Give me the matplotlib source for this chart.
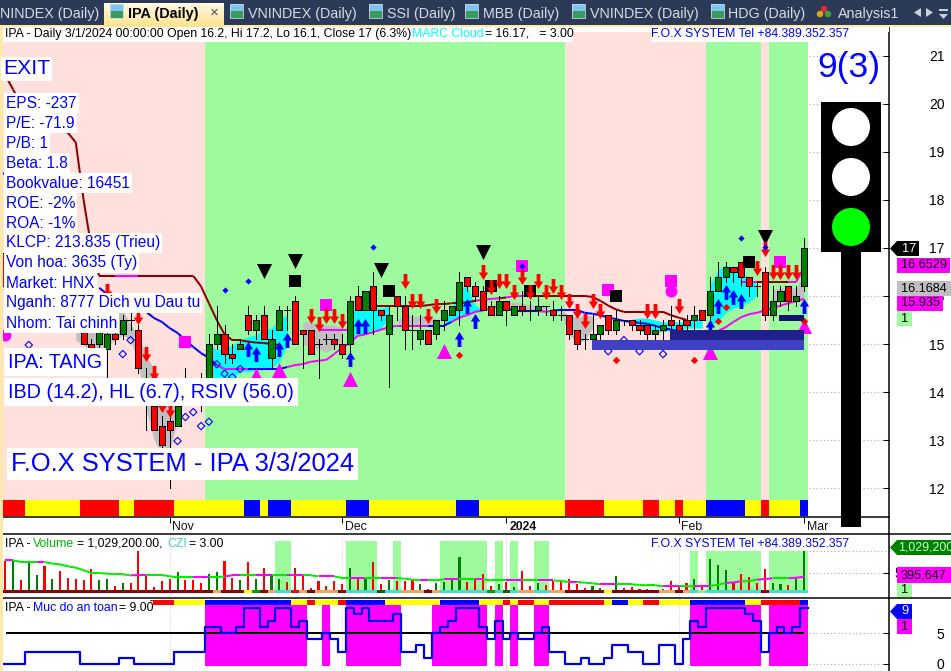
import numpy as np
import matplotlib
matplotlib.use('Agg')
import matplotlib.pyplot as plt
from matplotlib.patches import Rectangle, Circle, Polygon
from matplotlib.path import Path

plt.rcParams['font.family'] = ['Liberation Sans', 'DejaVu Sans']

nan = float('nan')
PX = 0.72  # one pixel in points at 100 dpi

# Candles, oldest first
opens = [16.9,15.9,16.7,16.0,15.9,16.5,15.7,16.3,15.9,15.9,15.3,15.0,15.0,14.9,15.2,15.2,15.5,15.3,14.2,13.7,
         13.3,13.4,13.3,14.2,14.1,14.3,14.3,15.0,15.2,14.8,14.9,15.6,15.3,15.6,14.7,15.3,15.7,15.9,15.3,15.3,
         15.0,15.1,15.1,15.0,15.0,16.0,15.7,16.2,15.7,15.2,16.0,15.8,15.3,15.1,15.3,15.2,15.5,15.6,15.7,16.4,
         16.2,16.1,15.8,15.6,15.9,15.6,15.8,15.7,15.7,15.8,15.7,15.6,15.6,15.3,15.1,15.1,15.2,15.6,15.3,15.5,
         15.5,15.4,15.4,15.2,15.3,15.5,15.4,15.5,15.5,15.7,15.6,16.1,16.4,16.6,16.7,16.4,16.2,16.5,15.6,15.9,
         16.2,15.9,16.2]
highs = [17.0,16.9,16.9,16.8,16.5,16.5,16.4,16.4,16.0,16.0,15.9,15.1,15.6,15.5,15.5,15.6,15.7,15.4,14.5,14.2,
         13.5,13.6,14.0,14.5,14.3,14.4,15.2,15.8,15.4,15.0,15.1,15.8,15.6,15.8,15.3,15.8,15.8,16.0,15.3,15.3,
         15.1,15.2,15.2,15.2,16.0,16.2,16.1,16.5,15.7,15.8,16.0,16.0,15.6,15.6,15.3,15.5,15.9,15.8,16.5,16.4,
         16.3,16.2,15.9,16.0,15.9,15.8,16.1,15.9,16.0,15.8,15.9,15.8,15.6,15.3,15.2,15.6,15.4,15.6,15.7,15.5,
         15.5,15.5,15.4,15.4,15.5,15.8,15.5,15.6,15.8,15.7,16.4,16.7,16.7,16.6,16.7,16.4,16.3,16.6,16.2,16.2,
         16.2,16.2,17.2]
lows = [16.0,15.7,16.3,15.9,15.8,15.7,15.6,15.7,15.4,15.4,15.0,14.4,14.9,14.3,15.0,15.1,15.3,14.4,13.2,13.2,
        12.8,12.0,13.3,13.9,13.9,13.6,14.1,14.9,14.6,14.6,14.9,15.2,15.1,15.1,14.5,15.3,15.3,15.0,14.5,14.8,
        14.3,15.0,14.9,14.7,14.8,15.7,15.7,15.2,15.5,14.1,15.5,14.9,14.9,15.0,15.0,15.1,15.3,15.6,15.4,16.1,
        15.9,15.7,15.6,15.6,15.4,15.6,15.6,15.5,15.6,15.6,15.5,15.5,15.1,14.9,14.9,15.0,15.1,15.2,15.2,15.4,
        15.3,15.2,15.1,15.1,15.1,15.3,15.1,15.2,15.2,15.5,15.5,16.1,16.3,16.3,16.2,16.0,16.0,15.5,15.5,15.8,
        15.7,15.8,16.1]
closes = [16.2,16.8,16.4,16.7,16.3,15.9,16.2,15.8,15.5,15.5,15.0,14.8,15.5,15.2,15.1,15.5,15.5,14.5,13.9,13.2,
          12.9,13.2,13.7,14.1,14.0,13.9,15.0,15.2,14.8,14.7,15.0,15.3,15.5,15.1,15.1,15.7,15.7,15.0,15.2,14.8,
          15.0,15.1,15.0,14.8,15.9,15.7,16.1,15.7,15.6,15.6,15.8,15.3,15.3,15.3,15.0,15.5,15.7,15.8,16.3,16.2,
          16.0,15.7,15.6,15.9,15.7,15.8,15.7,15.7,15.8,15.8,15.6,15.6,15.2,15.0,15.1,15.2,15.4,15.3,15.5,15.5,
          15.4,15.3,15.2,15.3,15.4,15.4,15.2,15.4,15.6,15.5,16.1,16.4,16.6,16.5,16.4,16.2,16.2,15.6,15.9,16.1,
          15.9,16.0,17.0]

# Upper trend line (maroon), nan where it cannot be seen
trend = [20.6,20.3,20.0,19.9,19.75,19.65,19.55,19.45,19.4,19.2,18.0,17.0] + [16.42]*13 + \
        [16.2,15.85,15.5,15.2,15.08,15.08,15.05,15.03,15.02,15.0,14.98] + [nan]*4 + [15.3]*5 + [nan]*2 + [15.79]*7 + \
        [15.81,15.83,15.83,15.85,15.85,15.87,15.9,15.92,15.94,15.95,15.97] + [16.0]*10 + \
        [15.98,15.9,15.8,15.72,15.67] + [15.67]*5 + [15.6,15.55,15.5] + [nan]*6 + [16.29]*8 + [16.6]
trend_magenta = [15,16,40,41,42,43,44,61,62,65,66,94,95,101,102]

# Lower line (blue / magenta)
mid_line = [nan]*12 + [16.17,16.04,15.98,15.92,15.81,15.73,15.67,15.54,15.46,15.33,15.23,15.08,14.94,14.81,14.71,14.56,
            14.48,14.48,14.48,14.48,14.48,14.48,14.48,14.48,14.52,14.56,14.58,14.63,14.65,14.67,14.79,14.92,15.02,15.17,
            15.2,15.25,15.3,15.35,15.38,15.38,15.38,15.38,15.38,15.38,15.38,15.46,15.55,15.6,15.67,15.7,15.75,15.79,
            15.75,15.69,15.69,15.69,15.69,15.67,15.7,15.71,15.71,15.71,15.65,15.63,15.6,15.55,15.52,15.48,15.46,15.44,
            15.42,15.38,15.33,15.3,15.27,15.25,15.23,15.23,15.23,15.27,15.35,15.46,15.56,15.62,15.65,15.7,15.75,15.8,
            15.85,15.89,15.94]
mid_blue = list(range(12, 27)) + [32,33,34,35,55,56,65,66,67] + list(range(71, 91))

# Cloud pieces
cloud_starts = [3, 9, 26, 38, 44, 50, 56, 64, 71, 80, 90, 98]
cloud_kinds = ['c', 'g', 'c', 'g', 'c', 'g', 'c', 'g', 'g', 'c', 'c', 'g']
cloud_hi = [[16.54,16.54,16.54,16.54,16.54],
            [15.92,15.92,15.81,15.71,15.71,15.71,15.71,15.40,15.19,14.77,14.46,14.15,13.83,13.73],
            [14.98,14.88,14.92,14.98,15.08,15.15,15.19,15.29,15.33,15.54,15.6],
            [15.46,15.46,15.40,15.40,15.40,15.33],
            [15.67,15.71,15.71,15.75,15.75,15.79],
            [15.5,15.58,15.58,15.58,15.58,15.54],
            [15.46,15.75,16.19,16.19,15.81,15.71],
            [15.85,15.88,15.85,15.81,15.81,15.79],
            [15.71,15.6,15.56,15.6,15.58],
            [15.52,15.54,15.54,15.5,15.46,15.46,15.46,15.46,15.5,15.54],
            [16.23,16.54,16.65,16.54,16.5,16.375,16.23],
            [16.13,16.17,16.17,16.17,16.44]]
cloud_lo = [[16.02,16.02,16.02,16.02,16.02],
            [15.08,14.98,14.88,14.88,14.98,15.08,15.19,15.08,14.56,13.63,13.0,12.69,12.79,13.42],
            [13.94,14.04,14.15,14.29,14.42,14.42,14.46,14.46,14.5,14.63,14.98],
            [14.98,14.98,14.88,14.83,14.92,15.04],
            [15.02,15.19,15.25,15.29,15.33,15.58],
            [15.46,15.33,15.38,15.38,15.38,15.38],
            [15.38,15.46,15.54,15.6,15.67,15.67],
            [15.73,15.67,15.67,15.67,15.67,15.67],
            [15.6,15.19,15.02,15.08,15.33],
            [15.46,15.29,15.19,15.25,15.25,15.29,15.29,15.33,15.33,15.33],
            [15.4,15.46,15.65,15.75,15.79,15.88,16.02],
            [15.85,15.88,15.88,15.92,15.96]]

# Signals
red_arrow_bars = [13,17,18,19,20,21,39,40,41,42,43,51,52,53,54,55,61,62,63,64,65,66,67,68,69,70,71,72,73,74,75,76,82,83,86,96,97,98,99,100,101]
red_arrow_vals = [16.1,15.56,14.79,14.4,13.73,13.63,15.58,15.42,15.58,15.58,15.48,16.31,15.9,15.9,15.58,15.79,16.5,16.19,16.31,16.31,16.08,16.4,16.08,16.31,16.08,16.21,16.08,15.9,15.69,15.48,15.9,15.69,15.69,15.69,15.79,16.58,16.98,16.5,16.5,16.5,16.5]
blue_arrow_bars = [31,32,35,36,44,45,46,58,59,60,90,91,92,93,94,102]
blue_arrow_vals = [14.9,14.79,14.9,15.08,14.69,15.38,15.38,15.1,15.79,15.48,15.35,15.79,16.08,15.98,15.9,15.79]
black_tri_bars = [33,37,48,61,97]
black_tri_vals = [16.52,16.73,16.54,16.92,17.23]
black_sq_bars = [7,37,49,62,67,78,95]
black_sq_vals = [17.6,16.31,16.1,16.21,16.1,16.0,16.71]
mag_sq_bars = [4,23,41,66,77,85,99]
mag_sq_vals = [17.08,15.04,15.81,16.63,16.13,16.31,16.71]
mag_dot_bars = [0,85]
mag_dot_vals = [15.19,16.1]
mag_tri_bars = [32,35,44,56,90,102]
mag_tri_vals = [14.35,14.46,14.27,14.85,14.83,15.38]
blue_dia_bars = [0,2,4,6,28,31,47,66,94,97]
blue_dia_vals = [18.56,18.15,17.73,17.31,16.13,16.31,17.02,16.63,17.21,17.02]
red_dia_bars = [58,78,88,91,92,102]
red_dia_vals = [14.77,14.67,14.67,15.48,15.77,15.48]
open_dia_bars = [3,15,16,22,23,24,25,26,27,28,29,30,77,79,81,84]
open_dia_vals = [14.98,14.79,15.08,12.98,13.48,13.58,13.29,13.38,14.58,14.38,14.31,14.48,14.85,15.08,14.85,14.79]

# Zones (first bar, last bar, low, high)
zone_first = [74.9, 84.9, 98.8]
zone_last = [102.0, 102.0, 102.0]
zone_low = [14.88, 15.08, 15.48]
zone_high = [15.08, 15.29, 15.6]
zone_cols = ['#4040C4', '#20208C', '#141470']

# Per bar states
regime = 'p'*26 + 'g'*46 + 'p'*18 + 'g'*7 + 'p' + 'g'*5
price_strip = 'r'*3+'y'*7+'r'*5+'y'*2+'r'*5+'y'*9+'b'*2+'y'+'b'*3+'y'*7+'b'*3+'y'*11+'b'*3+'y'*11+'r'*5+'y'*5+'r'*2+'y'*2+'r'+'y'*3+'b'*5+'y'*2+'r'+'y'*4+'b'
ind_strip = ' '*19+'r'*3+'y'*4+'b'*11+'y'*2+'r'+'y'*3+'r'+'b'*5+'y'*7+'b'*5+'y'*3+'r'+'y'+'r'*2+'y'*2+'r'*7+'y'+'b'*2+'y'*2+'r'*2+'y'*4+'b'*7+'y'*2+'r'*5+'b'
vol_strip = 'd'*27+'o'+'d'*3+'y'+'g'+'d'+'o'+'t'*2+'r'+'o'+'d'+'o'*3+'d'+'t'*4+'k'+'t'*2+'o'*2+'o'+'d'+'o'+'t'*6+'g'+'t'+'k'+'t'+'o'*2+'t'*2+'o'*2+'d'*5+'y'+'d'*6+'o'*2+'d'+'o'+'t'+'l'+'t'*7+'d'+'t'*5

# Volume in thousands of shares
volumes = [784,784,310,752,433,654,351,531,376,351,310,596,310,351,163,253,253,1021,409,155,
           286,335,507,327,327,237,474,507,776,360,310,752,335,605,409,351,261,605,458,114,
           286,163,286,212,605,376,360,752,212,310,286,286,310,212,90,237,261,360,874,261,
           360,458,163,212,261,139,531,163,237,188,286,286,335,212,114,163,114,65,409,114,
           139,90,90,65,90,286,163,237,335,163,825,678,556,237,458,384,237,580,237,212,
           188,360,1029.2]
vol_ma = [800,800,760,760,760,760,720,703,654,621,556,490,490,474,458,458,433,441,441,441,
          441,409,384,384,384,384,384,384,409,433,433,433,433,433,433,433,433,433,433,433,
          409,409,409,368,368,368,368,368,368,368,368,351,327,310,310,310,335,335,335,335,
          335,335,310,310,310,310,310,310,310,310,310,294,270,270,253,237,212,212,212,212,
          212,196,188,188,163,163,163,163,172,172,172,204,245,261,286,294,327,343,360,360,
          360,376,396]
vol_band_bars = [35,36,44,45,46,47,50,56,57,58,59,60,61,63,65,68,69,88,90,91,92,93,94,95,96,98,99,100,101,102]
vol_band_tops = [1270]*17 + [1030]*13

# Safety level
safety = [0,0,0,2,2,2,2,2,2,2,0,0,0,0,0,1,1,0,0,0,0,0,2,2,2,2,6,6,5,5,6,9,9,6,7,9,9,6,7,4,4,5,4,2,9,8,9,7,7,7,8,2,2,3,
          1,5,6,7,9,9,9,6,4,7,4,5,4,4,5,6,2,2,0,0,1,0,0,1,3,3,2,2,0,0,3,3,0,4,7,6,9,9,9,9,9,8,7,2,5,6,5,6,9]

# Axis labels
month_bars = [21, 43, 64, 86, 102]
month_labels = ['Nov', 'Dec', '2024', 'Feb', 'Mar']
price_ticks = [12, 13, 14, 15, 16, 17, 18, 19, 20, 21]
vol_ticks = [500]
ind_ticks = [0, 5]

info_lines = ['EPS: -237', 'P/E: -71.9', 'P/B: 1', 'Beta: 1.8', 'Bookvalue: 16451', 'ROE: -2%', 'ROA: -1%',
              'KLCP: 213.835 (Trieu)', 'Von hoa: 3635 (Ty)', 'Market: HNX', 'Nganh: 8777 Dich vu Dau tu', 'Nhom: Tai chinh']

tabs = ['NINDEX (Daily)', 'VNINDEX (Daily)', 'SSI (Daily)', 'MBB (Daily)', 'VNINDEX (Daily)', 'HDG (Daily)', 'Analysis1']
tab_x = [0, 248, 387, 483, 590, 728, 838]
icon_x = [230, 369, 465, 572, 711]

n = len(closes)
bars = np.arange(n)
opens, highs, lows, closes = map(np.array, (opens, highs, lows, closes))
volumes = np.array(volumes)
safety = np.array(safety)

strip_cols = {'r': '#FF0000', 'y': '#FFFF00', 'b': '#0000FF'}
vol_cols = {'d': '#8B0000', 'o': '#F4A460', 'y': '#FFFF00', 'g': '#00A000', 'r': '#E01010', 't': '#40E0D0', 'k': '#006400', 'l': '#90EE90'}
GREEN_BG = '#9DFB9D'
PINK_BG = '#FFE0DC'
MAGENTA = '#FF00FF'
BLUE = '#0000FF'

W, H = 951, 671
fig = plt.figure(figsize=(W/100, H/100), dpi=100, facecolor='white')


def pane(top, bottom):
    a = fig.add_axes([3/W, (H-bottom)/H, 886/W, (bottom-top)/H])
    a.set_xlim(-0.294, 112.86)
    for s in ['top', 'left', 'bottom']:
        a.spines[s].set_visible(False)
    a.spines['right'].set_linewidth(1.5*PX)
    a.yaxis.tick_right()
    a.set_xticks([])
    a.tick_params(axis='y', direction='in', length=4*PX*1.4, width=PX, pad=40, labelsize=10)
    return a


def right_labels(a):
    for t in a.get_yticklabels():
        t.set_ha('right')


def coloured_line(a, vals, special, col_main, col_special, width):
    vals = np.array(vals)
    for i in range(n-1):
        if np.isnan(vals[i]) or np.isnan(vals[i+1]):
            continue
        c = col_special if (i in special or i+1 in special) else col_main
        a.plot([i, i+1], [vals[i], vals[i+1]], color=c, lw=width*PX, solid_capstyle='butt', zorder=4)


ax = pane(27, 517)
ax.set_ylim(11.396, 21.604)
date_ax = pane(517, 534)
vol_ax = pane(534, 598)
vol_ax.set_ylim(-122.5, 1446)
ind_ax = pane(598, 671)
ind_ax.set_ylim(-1.13, 10.65)

# Price pane backgrounds and strips
for i in bars:
    ax.bar(i, 21.5-11.75, bottom=11.75, width=1.0, color=PINK_BG if regime[i] == 'p' else GREEN_BG, linewidth=0, antialiased=False, zorder=1)
    ax.bar(i, 0.33, bottom=11.42, width=1.0, color=strip_cols[price_strip[i]], linewidth=0, antialiased=False, zorder=2)

for start, kind, hi, lo in zip(cloud_starts, cloud_kinds, cloud_hi, cloud_lo):
    xs = np.arange(start, start+len(hi))
    ax.fill_between(xs, lo, hi, color='#00FFFF' if kind == 'c' else '#C0C0C0', linewidth=0, zorder=3)

coloured_line(ax, trend, trend_magenta, '#8B0000', MAGENTA, 2)
coloured_line(ax, mid_line, mid_blue, MAGENTA, BLUE, 2)

# Candles
ax.vlines(bars, lows, highs, color='black', lw=PX, zorder=5, antialiased=False)
body_low = np.minimum(opens, closes)
body_high = np.maximum(opens, closes)
body_col = ['#008000' if c > o else '#FF0000' for o, c in zip(opens, closes)]
solid = body_high > body_low
ax.bar(bars[solid], (body_high-body_low)[solid], bottom=body_low[solid], width=0.78,
       color=np.array(body_col)[solid], edgecolor='black', linewidth=PX, antialiased=False, zorder=6)
ax.hlines(closes[~solid], bars[~solid]-0.42, bars[~solid]+0.42, color='black', lw=PX, antialiased=False, zorder=6)

# Signal markers
down_arrow = Path([(-.25, 1), (.25, 1), (.25, 0), (.62, 0), (0, -1), (-.62, 0), (-.25, 0), (-.25, 1)])
up_arrow = Path([(-.25, -1), (.25, -1), (.25, 0), (.62, 0), (0, 1), (-.62, 0), (-.25, 0), (-.25, -1)])
ax.scatter(mag_tri_bars, mag_tri_vals, marker='^', s=117, color=MAGENTA, linewidth=0, zorder=7)
ax.scatter(black_tri_bars, black_tri_vals, marker='v', s=117, color='black', linewidth=0, zorder=7)
ax.scatter(mag_sq_bars, mag_sq_vals, marker='s', s=74, color=MAGENTA, linewidth=0, zorder=7)
ax.scatter(black_sq_bars, black_sq_vals, marker='s', s=74, color='black', linewidth=0, zorder=7)
ax.scatter(mag_dot_bars, mag_dot_vals, marker='o', s=74, color=MAGENTA, linewidth=0, zorder=7)
ax.scatter(red_arrow_bars, red_arrow_vals, marker=down_arrow, s=117, color='#FF0000', linewidth=0, zorder=8)
ax.scatter(blue_arrow_bars, blue_arrow_vals, marker=up_arrow, s=117, color=BLUE, linewidth=0, zorder=8)
ax.scatter(blue_dia_bars, blue_dia_vals, marker='D', s=10, color=BLUE, linewidth=0, zorder=8)
ax.scatter(red_dia_bars, red_dia_vals, marker='D', s=14, color='#FF0000', linewidth=0, zorder=8)
ax.scatter(open_dia_bars, open_dia_vals, marker='D', s=14, facecolor='none', edgecolor=BLUE, linewidth=0.8, zorder=8)

for x0, x1, y0, y1, c in zip(zone_first, zone_last, zone_low, zone_high, zone_cols):
    ax.bar((x0+x1)/2, y1-y0, bottom=y0, width=x1-x0, color=c, linewidth=0, antialiased=False, zorder=9)

ax.set_yticks(price_ticks)
right_labels(ax)
ax.hlines(price_ticks, 102.6, 112.86, colors='#B0B0B0', linestyles=(0, (1, 2)), lw=PX*1.2, zorder=1)

# Date strip
date_ax.set_ylim(0, 1)
date_ax.set_yticks([])
date_ax.xaxis.tick_top()
date_ax.set_xticks(month_bars)
date_ax.tick_params(axis='x', direction='in', length=4, width=PX, labeltop=False, labelbottom=False)
for b, lab in zip(month_bars, month_labels):
    date_ax.text(b+0.35, 0.42, lab, va='center', ha='left', fontsize=8.8, clip_on=False,
                 fontweight='bold' if lab == '2024' else 'normal', color='#111111')

# Volume pane
vol_ax.bar(vol_band_bars, vol_band_tops, width=1.0, color=GREEN_BG, linewidth=0, antialiased=False, zorder=1)
vol_ax.bar(bars, volumes, width=0.27, color=['#008000' if c > o else '#FF0000' for o, c in zip(opens, closes)],
           linewidth=0, antialiased=False, zorder=3)
for i in bars:
    vol_ax.bar(i, 73, width=1.0, color=vol_cols[vol_strip[i]], linewidth=0, antialiased=False, zorder=4)
ma = np.array(vol_ma, dtype=float)
for i in range(n-1):
    vol_ax.plot([i, i+1], [ma[i], ma[i+1]], color=MAGENTA if ma[i+1] >= ma[i] and i % 4 < 2 else '#00EE00',
                lw=2*PX, solid_capstyle='butt', zorder=5)
vol_ax.set_yticks(vol_ticks)
vol_ax.set_yticklabels(['500,000'])
right_labels(vol_ax)
vol_ax.hlines(vol_ticks + [1029.2], 102.6, 112.86, colors='#B0B0B0', linestyles=(0, (1, 2)), lw=PX*1.2, zorder=1)

# Safety pane
above = safety >= 5
ind_ax.bar(bars[above], 9.77, bottom=-0.27, width=1.0, color=MAGENTA, linewidth=0, antialiased=False, zorder=1)
for i in bars:
    if ind_strip[i] != ' ':
        ind_ax.bar(i, 0.82, bottom=9.5, width=1.0, color=strip_cols[ind_strip[i]], linewidth=0, antialiased=False, zorder=2)
ind_ax.hlines(5, 0.1, 102, color='black', lw=2*PX, zorder=3)
ind_ax.step(np.append(bars-0.5, 102.5), np.append(safety, safety[-1]), where='post', color='#0000E6', lw=2.2*PX, zorder=4)
ind_ax.set_yticks(ind_ticks)
right_labels(ind_ax)
ind_ax.hlines(ind_ticks, 102.6, 112.86, colors='#B0B0B0', linestyles=(0, (1, 2)), lw=PX*1.2, zorder=1)

for a in (vol_ax, ind_ax):
    a.vlines(month_bars, *a.get_ylim(), colors='#C8C8C8', linestyles=(0, (1, 2)), lw=PX, zorder=0)

# Window furniture and text boxes, drawn in pixel coordinates
ov = fig.add_axes([0, 0, 1, 1], zorder=20)
ov.set_xlim(0, W)
ov.set_ylim(H, 0)
ov.axis('off')
ov.patch.set_alpha(0)


def box(x0, y0, x1, y1, c, z=1):
    ov.add_patch(Rectangle((x0, y0), x1-x0, y1-y0, facecolor=c, edgecolor='none', zorder=z))


def label(x, y, s, size=8.8, c='black', ha='left', z=5, **kw):
    ov.text(x, y, s, fontsize=size, color=c, ha=ha, va='center', zorder=z, **kw)


def tag(x0, y0, x1, y1, c, s, tc='black', tx=None):
    box(x0, y0, x1, y1, c, 3)
    label(x0+3 if tx is None else tx, (y0+y1)/2, s, size=9.2, c=tc, z=4)


def flag(x1, y0, y1, c):
    ym = (y0+y1)/2
    ov.add_patch(Polygon([(890, ym), (897, y0), (x1, y0), (x1, y1), (897, y1)], facecolor=c, edgecolor='none', zorder=3))


def icon(x):
    box(x, 4, x+13, 11, '#7FC4F0', 2)
    box(x, 11, x+13, 18, '#3C9A5A', 2)
    ov.add_patch(Rectangle((x, 4), 13, 14, facecolor='none', edgecolor='#C8D8E8', lw=0.6, zorder=3))


box(0, 0, W, 25, '#2B3A57')
box(0, 25, W, 27, '#FFE9AA')
box(0, 25, 3, H, '#FFE9AA')
grad = np.linspace(0, 1, 24).reshape(-1, 1, 1)*np.array([[[-0.0, -0.09, -0.35]]]) + np.array([[[1.0, 0.98, 0.9]]])
ov.imshow(grad, extent=(104, 224, 27, 3), aspect='auto', zorder=2, interpolation='bilinear')
ov.set_xlim(0, W)
ov.set_ylim(H, 0)
icon(110)
label(128, 14, 'IPA (Daily)', size=10.4, fontweight='bold')
label(214, 12.5, '×', size=11, c='#555555', ha='center')
for x, s in zip(tab_x, tabs):
    label(x, 14, s, size=10.3, c='#D5DCE6')
for x in icon_x:
    icon(x)
ov.scatter([824, 820, 828], [9, 14, 14], s=[22, 22, 22], c=['#D83030', '#E0A020', '#40A040'], marker='o', linewidth=0, zorder=3)
ov.add_patch(Polygon([(921, 8), (921, 17), (914, 12.5)], facecolor='#C8D0DC', edgecolor='none', zorder=3))
ov.add_patch(Polygon([(926, 8), (926, 17), (933, 12.5)], facecolor='#C8D0DC', edgecolor='none', zorder=3))
ov.add_patch(Polygon([(939, 14), (948, 14), (943.5, 19)], facecolor='#C8D0DC', edgecolor='none', zorder=3))
box(939, 9, 948, 11, '#C8D0DC', 3)

# Header strips
box(3, 27, 573, 42, 'white')
box(573, 27, 889, 32, 'white')
box(651, 27, 846, 42, 'white')
label(5, 34, 'IPA - Daily 3/1/2024 00:00:00 Open 16.2, Hi 17.2, Lo 16.1, Close 17 (6.3%)')
label(412, 34, 'MARC Cloud', c='#00FFFF')
label(485, 34, '= 16.17,   = 3.00')
label(651, 34, 'F.O.X SYSTEM Tel +84.389.352.357', c=BLUE)
box(651, 538, 846, 550, 'white', 2)
label(651, 544, 'F.O.X SYSTEM Tel +84.389.352.357', c=BLUE)
label(5, 544, 'IPA -')
label(33, 544, 'Volume', c='#00BB00')
label(77, 544, '= 1,029,200.00,')
label(167, 544, 'CZI', c='#40D0D0')
label(189, 544, '= 3.00')
box(5, 601, 153, 615, 'white', 2)
label(5, 608, 'IPA -')
label(33, 608, 'Muc do an toan', c=BLUE)
label(119, 608, '= 9.00')

# Blue notes on the price pane
white_box = dict(facecolor='white', edgecolor='none', pad=1.5)
label(3, 69, 'EXIT', size=15.2, c=BLUE, bbox=white_box)
for k, s in enumerate(info_lines):
    label(6, 103+20*k, s, size=11.2, c=BLUE, bbox=white_box)
label(8, 362, 'IPA: TANG', size=14.2, c=BLUE, bbox=dict(facecolor='white', edgecolor='none', pad=3))
label(8, 392, 'IBD (14.2), HL (6.7), RSIV (56.0)', size=14.2, c=BLUE, bbox=dict(facecolor='white', edgecolor='none', pad=3))
label(11, 464, 'F.O.X SYSTEM - IPA 3/3/2024', size=18.4, c=BLUE, bbox=dict(facecolor='white', edgecolor='none', pad=2.5))
label(849, 68, '9(3)', size=25.5, c=BLUE, ha='center')

# Traffic light
box(821, 102, 881, 252, 'black', 3)
box(841, 252, 861, 527, 'black', 3)
for cy, c in zip([127, 177, 227], ['white', 'white', '#00FF00']):
    ov.add_patch(Circle((851, cy), 19, facecolor=c, edgecolor='none', zorder=4))

# Pane separators
ov.hlines(517, 3, 889, color='black', lw=1.5*PX, zorder=2)
ov.hlines([534, 598], 3, W, color='black', lw=1.5*PX, zorder=2)

# Last value tags
flag(919, 241, 256, 'black')
label(902, 248.5, '17', size=9.2, c='white')
tag(897, 258, 950, 273, MAGENTA, '16.6529', tx=901)
tag(897, 281, 951, 296, '#C0C0C0', '16.1684', tx=901)
tag(897, 296, 943, 311, MAGENTA, '15.935', tx=901)
tag(897, 311, 912, 326, GREEN_BG, '1', tx=901)
flag(951, 540, 555, '#008000')
label(898, 547.5, '1,029,200', size=8.9, c='#C8FFC8')
tag(897, 567, 951, 583, MAGENTA, '395,647', tx=901)
tag(897, 583, 912, 597, GREEN_BG, '1', tx=901)
flag(912, 604, 619, BLUE)
label(901, 611.5, '9', size=9.2, c='white')
tag(897, 619, 912, 634, MAGENTA, '1', tx=901)

fig.savefig('out.png', dpi=100)
